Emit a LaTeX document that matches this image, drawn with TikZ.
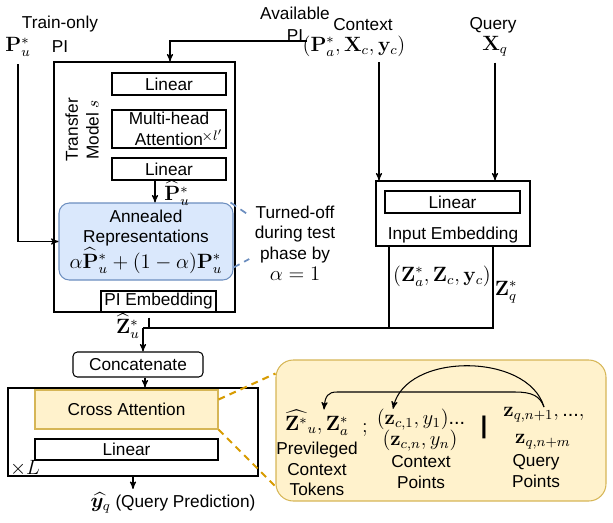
\documentclass[tikz,border=0pt]{standalone}
\usepackage{amsmath}
\usepackage{bm}
\usepackage[no-math]{fontspec}
\setmainfont{Liberation Sans}
\usetikzlibrary{shapes}
\usetikzlibrary{arrows}
\definecolor{annfill}{HTML}{DAE8FC}
\definecolor{annline}{HTML}{6C8EBF}
\definecolor{attfill}{HTML}{FFF2CC}
\definecolor{attline}{HTML}{D6B656}
\definecolor{dashgold}{HTML}{D79B00}
\newlength{\upx}
\setlength{\upx}{0.58pt}
\newcommand{\mth}{\fontsize{11.5}{13}\selectfont}
\tikzset{
	box/.style = {
		rectangle,
		draw=black,
		inner sep=0pt,
		align=center,
		line width=0.6pt
	},
	box_round/.style = {
		box,
		rounded corners=2.5pt
	},
	box_anneal/.style = {
		box,
		rounded corners=6pt,
		fill=annfill,
		draw=annline
	},
	box_attn/.style = {
		box,
		fill=attfill,
		draw=attline
	},
	callout/.style = {
		box,
		rounded corners=10pt,
		fill=attfill,
		draw=attline
	},
	txt/.style = {
		inner sep=0pt,
		align=center
	},
	mathtxt/.style = {
		inner sep=0pt,
		font=\mth
	},
	dash_blue/.style = {
		draw=annline,
		dash pattern=on 4pt off 3pt,
		line width=1pt
	},
	dash_gold/.style = {
		draw=dashgold,
		dash pattern=on 4pt off 3pt,
		line width=1.2pt
	},
}
\begin{document}
\begin{tikzpicture}[x=0.58pt, y=-0.58pt, >=stealth', line width=0.6pt]
\useasboundingbox (0,0) rectangle (613,522);
% inputs
\node[txt, font=\fontsize{10}{14}\selectfont] (train_lbl) at (60,34) {Train-only\\PI};
\node[mathtxt] (pu) at (18,47) {$\mathbf{P}^*_u$};
\node[txt, font=\fontsize{10}{13}\selectfont] (avail_lbl) at (295,24) {Available\\PI};
\node[txt] (ctx_lbl) at (363,25) {Context};
\node[mathtxt] (ctx) at (354,46) {$(\mathbf{P}^*_a,\mathbf{X}_c,\mathbf{y}_c)$};
\node[txt] (qry_lbl) at (493,25) {Query};
\node[mathtxt] (qx) at (495,46) {$\mathbf{X}_q$};
% transfer model
\node[box, minimum width=181*\upx, minimum height=250*\upx] (tm) at (144.5,187) {};
\node[txt, rotate=90] (tm_lbl) at (82,130) {Transfer\\Model $s$};
\node[box, minimum width=114*\upx, minimum height=22*\upx] (tm_lin1) at (169,84) {Linear};
\node[box, minimum width=114*\upx, minimum height=38*\upx] (tm_mha) at (169,129) {Multi-head\\Attention};
\node[inner sep=0pt, font=\footnotesize] (tm_rep) at (212,136) {$\times l'$};
\node[box, minimum width=114*\upx, minimum height=22*\upx] (tm_lin2) at (169,169) {Linear};
\node[box_anneal, minimum width=174*\upx, minimum height=77*\upx] (ann) at (146,241.5) {Annealed\\Representations\\{\mth$\alpha\widehat{\mathbf{P}}^*_u+(1-\alpha)\mathbf{P}^*_u$}};
\node[box, fill=white, minimum width=115*\upx, minimum height=21*\upx] (pi_emb) at (158.5,301.5) {PI Embedding};
\node[mathtxt] (phat) at (177,193) {$\widehat{\mathbf{P}}^*_u$};
\node[mathtxt] (zhat_u) at (128,326) {$\widehat{\mathbf{Z}}^*_u$};
\node[txt] (note) at (295,243) {Turned-off\\during test\\phase by\\{\mth$\alpha=1$}};
% input embedding
\node[box, minimum width=154*\upx, minimum height=65*\upx] (ie) at (453,213.5) {};
\node[box, minimum width=135*\upx, minimum height=22*\upx] (ie_lin) at (452.5,202) {Linear};
\node[txt] (ie_lbl) at (453,235) {Input Embedding};
\node[mathtxt] (zctx) at (442,276) {$(\mathbf{Z}^*_a,\mathbf{Z}_c,\mathbf{y}_c)$};
\node[mathtxt] (zq) at (506,292) {$\mathbf{Z}^*_q$};
% decoder
\node[box_round, minimum width=130*\upx, minimum height=25*\upx] (cat) at (138,364.5) {Concatenate};
\node[box, minimum width=250*\upx, minimum height=88*\upx] (dec) at (133,432) {};
\node[box_attn, minimum width=183*\upx, minimum height=39*\upx] (ca) at (126.5,409.5) {Cross Attention};
\node[box, minimum width=183*\upx, minimum height=21*\upx] (dec_lin) at (126.5,449.5) {Linear};
\node[mathtxt] (dec_rep) at (25,468) {$\times L$};
\node[txt] (pred) at (173,503) {{\mth$\widehat{\boldsymbol{y}_q}$} (Query Prediction)};
% callout
\node[callout, minimum width=330*\upx, minimum height=141*\upx] (co) at (441,430.5) {};
\node[mathtxt] (tok) at (317,423) {$\widehat{\mathbf{Z}^*}_u,\mathbf{Z}^*_a$};
\node[mathtxt] (semi) at (365,430) {$;$};
\node[txt] (tok_lbl) at (317,469) {Previleged\\Context\\Tokens};
\node[mathtxt] (cpt1) at (421,420) {$(\mathbf{z}_{c,1},y_1)$...};
\node[mathtxt] (cpt2) at (420,441) {$(\mathbf{z}_{c,n},y_n)$};
\node[txt] (cpt_lbl) at (421,472) {Context\\Points};
\node[inner sep=0pt, font=\fontsize{14}{16}\selectfont\bfseries] (sep) at (484,427) {|};
\node[mathtxt] (qpt1) at (544,415) {$\mathbf{z}_{q,n+1},\text{...},$};
\node[mathtxt] (qpt2) at (543,442) {$\mathbf{z}_{q,n+m}$};
\node[txt] (qpt_lbl) at (536,471) {Query\\Points};
% connectors
\draw[->, shorten <=4pt] (pu.south) |- (ann.west);
\coordinate (avail_pt) at (307,41);
\draw[->] (avail_pt) -| ([xshift=25.5*\upx]tm.north);
\coordinate (ctx_drop) at (379,62);
\draw[->] (ctx_drop) -- (ctx_drop |- ie.north);
\draw[->] ([yshift=-6*\upx]qx.south) -- (qx.south |- ie.north);
\draw[->] ([xshift=-14*\upx]tm_lin2.south) -- ([xshift=-14*\upx]tm_lin2.south |- ann.north);
\coordinate (merge) at (143,328);
\draw ([xshift=-64*\upx]ie.south) |- (merge);
\draw ([xshift=40*\upx]ie.south) |- (merge);
\draw ([xshift=-9.5*\upx,yshift=-5*\upx]pi_emb.south) -- ([xshift=-9.5*\upx]pi_emb.south |- merge);
\draw[->] (merge) -- (merge |- cat.north);
\draw[->] ([xshift=7*\upx]cat.south) -- ([xshift=7*\upx]cat.south |- dec.north);
\draw[->] (dec.south) -- ([yshift=3*\upx]dec.south |- pred.north);
\draw[dash_blue] ([xshift=-3*\upx]ann.north east) -- ([xshift=-7*\upx,yshift=29*\upx]note.west);
\draw[dash_blue] ([yshift=-26*\upx]ann.east) -- ([xshift=-5*\upx,yshift=-16*\upx]note.west);
\draw[dash_gold] ([yshift=10*\upx]ca.east) -- ([yshift=57*\upx]co.west);
\draw[dash_gold] (ca.south east) -- ([yshift=-56*\upx]co.west);
\coordinate (to_ctx) at ([xshift=-28*\upx]cpt1.north);
\coordinate (to_tok) at ([xshift=7*\upx]tok.north);
\draw[->] (qpt1.north) .. controls (528,352) and (405,352) .. (to_ctx);
\draw[->] (qpt1.north) .. controls (540,396) and (532,392) .. (515,392) -- (337,392) .. controls (328,392) and (325,396) .. (to_tok);
\end{tikzpicture}
\end{document}
